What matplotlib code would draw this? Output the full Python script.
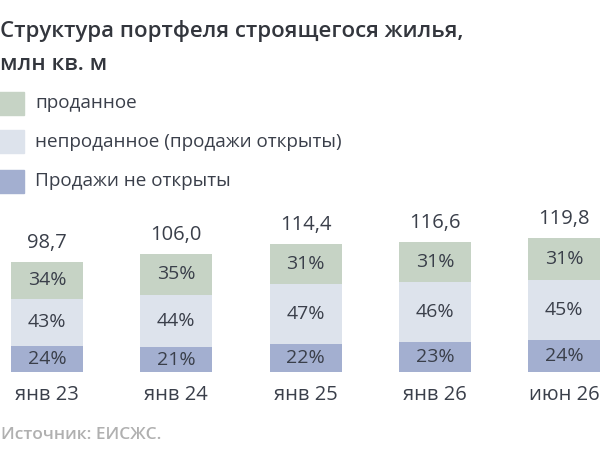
import matplotlib
matplotlib.use("Agg")
import matplotlib.pyplot as plt
import numpy as np

categories = ["янв 23", "янв 24", "янв 25", "янв 26", "июн 26"]
totals = [98.7, 106.0, 114.4, 116.6, 119.8]
pct_not_open = [24, 21, 22, 23, 24]
pct_unsold = [43, 44, 47, 46, 45]
pct_sold = [34, 35, 31, 31, 31]
series_names = ["проданное", "непроданное (продажи открыты)", "Продажи не открыты"]

c_sold = "#c6d3c5"
c_unsold = "#dde3ec"
c_notopen = "#a3afd0"
txt = "#3a3f4a"

plt.rcParams['font.family'] = ['Open Sans', 'DejaVu Sans']

W, H = 600, 450
fig = plt.figure(figsize=(6, 4.5), dpi=100)
fig.patch.set_facecolor("white")

def fx(px):
    return px / W

def fy(py):
    return 1 - py / H

ax = fig.add_axes([0, fy(372), 1, 372 / H])
x = np.arange(len(categories))
spacing = 129.3
ax.set_xlim(-47 / spacing, (W - 47) / spacing)
ax.set_ylim(0, 372 / 1.117)
ax.axis("off")

tot = np.array(totals)
p1 = np.array(pct_not_open, float)
p2 = np.array(pct_unsold, float)
p3 = np.array(pct_sold, float)
s = p1 + p2 + p3
v1 = tot * p1 / s
v2 = tot * p2 / s
v3 = tot * p3 / s
bw = 72 / spacing
ax.bar(x, v1, bw, color=c_notopen)
ax.bar(x, v2, bw, bottom=v1, color=c_unsold)
ax.bar(x, v3, bw, bottom=v1 + v2, color=c_sold)

for i in range(len(x)):
    ax.text(x[i], v1[i] / 2, f"{pct_not_open[i]}%", ha="center", va="center", fontsize=14, color=txt)
    ax.text(x[i], v1[i] + v2[i] / 2, f"{pct_unsold[i]}%", ha="center", va="center", fontsize=14, color=txt)
    ax.text(x[i], v1[i] + v2[i] + v3[i] / 2, f"{pct_sold[i]}%", ha="center", va="center", fontsize=14, color=txt)
    ax.text(x[i], tot[i] + 8, f"{totals[i]:.1f}".replace(".", ","), ha="center", va="bottom", fontsize=14.5, color=txt)
    ax.annotate(categories[i], (x[i], 0), xytext=(0, -23), textcoords="offset pixels",
                ha="center", va="center", fontsize=14.5, color=txt)

fig.text(fx(0), fy(37), "Структура портфеля строящегося жилья,", fontsize=16, color="#33363d",
         fontweight="semibold", ha="left", va="baseline")
fig.text(fx(0), fy(70), "млн кв. м", fontsize=16, color="#33363d", fontweight="semibold",
         ha="left", va="baseline")

leg_colors = [c_sold, c_unsold, c_notopen]
leg_y = [103.5, 141.5, 181]
for name, col, yc in zip(series_names, leg_colors, leg_y):
    fig.patches.append(plt.Rectangle((fx(-10), fy(yc + 11.5)), fx(34), 23 / H,
                                     transform=fig.transFigure, color=col, figure=fig))
    fig.text(fx(35), fy(yc), name, fontsize=13.6, color=txt, ha="left", va="center")

fig.text(fx(1), fy(435), "Источник: ЕИСЖС.", fontsize=12.5, color="#b0b0b0",
         fontweight="semibold", ha="left", va="center")

fig.savefig("out.png", dpi=100)
